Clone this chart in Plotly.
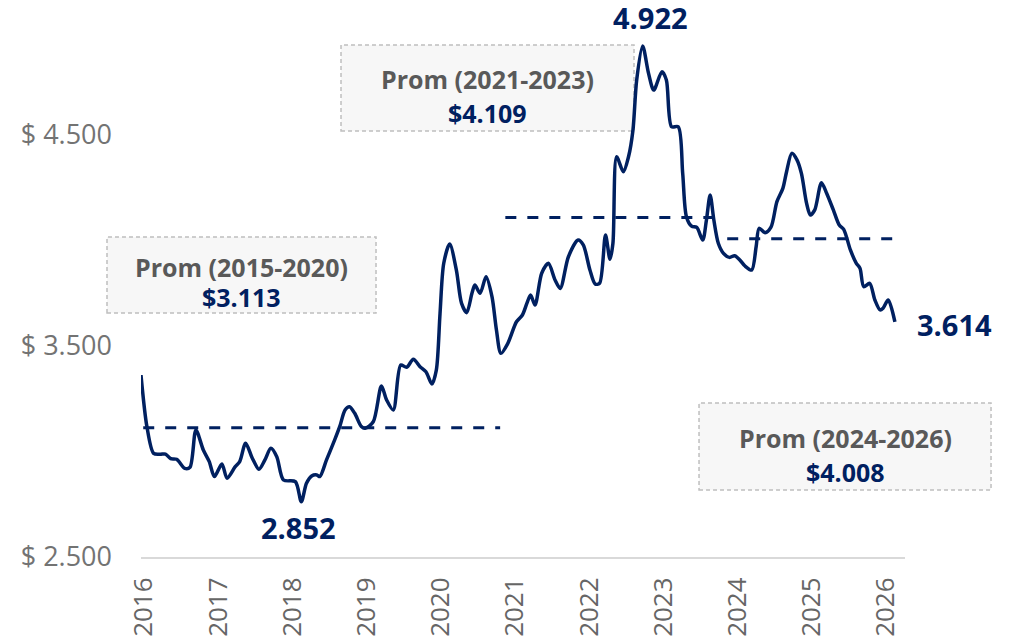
import plotly.graph_objects as go

# ---- data ----
years = [2015.96, 2016.04, 2016.13, 2016.22, 2016.29, 2016.36, 2016.44, 2016.55, 2016.62, 2016.70,
         2016.80, 2016.88, 2016.95, 2017.05, 2017.12, 2017.23, 2017.29, 2017.37, 2017.46, 2017.55,
         2017.63, 2017.71, 2017.79, 2017.88, 2018.04, 2018.12, 2018.19, 2018.26, 2018.33, 2018.37,
         2018.46, 2018.57, 2018.64, 2018.71, 2018.77, 2018.84, 2018.93, 2018.98, 2019.09, 2019.20,
         2019.27, 2019.36, 2019.46, 2019.54, 2019.63, 2019.72, 2019.80, 2019.88, 2019.94, 2019.99,
         2020.04, 2020.12, 2020.21, 2020.28, 2020.35, 2020.42, 2020.46, 2020.53, 2020.61, 2020.69,
         2020.75, 2020.81, 2020.90, 2021.02, 2021.10, 2021.16, 2021.21, 2021.27, 2021.36, 2021.45,
         2021.54, 2021.61, 2021.72, 2021.85, 2021.92, 2022.01, 2022.08, 2022.14, 2022.22, 2022.28,
         2022.32, 2022.37, 2022.46, 2022.53, 2022.59, 2022.64, 2022.72, 2022.80, 2022.87, 2022.98,
         2023.04, 2023.11, 2023.20, 2023.26, 2023.31, 2023.38, 2023.45, 2023.53, 2023.58, 2023.63,
         2023.68, 2023.74, 2023.81, 2023.89, 2023.96, 2024.03, 2024.10, 2024.19, 2024.25, 2024.29,
         2024.37, 2024.45, 2024.53, 2024.61, 2024.66, 2024.73, 2024.80, 2024.86, 2024.93, 2024.98,
         2025.04, 2025.13, 2025.20, 2025.29, 2025.37, 2025.43, 2025.52, 2025.60, 2025.65, 2025.70,
         2025.78, 2025.85, 2025.92, 2025.96, 2026.03, 2026.12]

prices = [3.362, 3.117, 2.991, 2.987, 2.988, 2.966, 2.963, 2.920, 2.925, 3.102,
          3.007, 2.952, 2.881, 2.941, 2.873, 2.928, 2.952, 3.039, 2.968, 2.916,
          2.960, 3.015, 2.975, 2.865, 2.857, 2.762, 2.849, 2.884, 2.889, 2.881,
          2.960, 3.055, 3.120, 3.197, 3.212, 3.181, 3.118, 3.110, 3.141, 3.310,
          3.244, 3.197, 3.410, 3.399, 3.437, 3.402, 3.378, 3.320, 3.386, 3.655,
          3.892, 3.983, 3.860, 3.702, 3.658, 3.750, 3.789, 3.750, 3.828, 3.734,
          3.576, 3.465, 3.510, 3.615, 3.647, 3.702, 3.742, 3.694, 3.845, 3.892,
          3.813, 3.773, 3.923, 4.002, 3.979, 3.860, 3.794, 3.797, 4.026, 3.911,
          3.987, 4.397, 4.326, 4.397, 4.524, 4.761, 4.922, 4.792, 4.713, 4.800,
          4.761, 4.539, 4.539, 4.318, 4.113, 4.068, 4.062, 4.002, 4.097, 4.216,
          4.097, 3.987, 3.939, 3.920, 3.928, 3.908, 3.879, 3.860, 3.971, 4.058,
          4.037, 4.063, 4.184, 4.247, 4.326, 4.413, 4.382, 4.318, 4.176, 4.121,
          4.145, 4.274, 4.224, 4.145, 4.073, 4.053, 3.955, 3.892, 3.868, 3.781,
          3.797, 3.718, 3.671, 3.679, 3.718, 3.614]

avg_labels = ["Prom (2015-2020)", "Prom (2021-2023)", "Prom (2024-2026)"]
avg_values = [3.113, 4.109, 4.008]
avg_start = [2015.99, 2020.87, 2023.86]
avg_end = [2020.80, 2023.80, 2026.15]

tick_years = [2016, 2017, 2018, 2019, 2020, 2021, 2022, 2023, 2024, 2025, 2026]
y_ticks = [2.5, 3.5, 4.5]
y_tick_text = ["$ 2.500", "$ 3.500", "$ 4.500"]

max_label, min_label, last_label = "4.922", "2.852", "3.614"

NAVY = "#002060"
GREY = "#595959"
FONT = "Century Gothic, Open Sans, sans-serif"

fig = go.Figure()

for s, e, v in zip(avg_start, avg_end, avg_values):
    fig.add_trace(go.Scatter(x=[s, e], y=[v, v], mode="lines",
                             line=dict(color=NAVY, width=3, dash="11px,11px"),
                             hoverinfo="skip", showlegend=False))

fig.add_trace(go.Scatter(x=years, y=prices, mode="lines",
                         line=dict(color=NAVY, width=3.5, shape="spline", smoothing=0.8),
                         showlegend=False))

# ---- average boxes (paper coordinates) ----
boxes = [(-0.0445, 0.3076, 0.4461, 0.5850),
         (0.2618, 0.6453, 0.7788, 0.9360),
         (0.7304, 1.1126, 0.1225, 0.2815)]
for (x0, x1, y0, y1), lab, val in zip(boxes, avg_labels, avg_values):
    fig.add_shape(type="rect", xref="paper", yref="paper", x0=x0, x1=x1, y0=y0, y1=y1,
                  line=dict(color="#bfbfbf", width=1.5, dash="4px,3px"),
                  fillcolor="#f7f7f7", layer="below")
    xc = (x0 + x1) / 2
    h = y1 - y0
    fig.add_annotation(xref="paper", yref="paper", x=xc, y=y0 + h * 0.60,
                       xanchor="center", yanchor="middle",
                       text=f"<b>{lab}</b>", showarrow=False,
                       font=dict(family=FONT, size=25, color=GREY))
    fig.add_annotation(xref="paper", yref="paper", x=xc, y=y0 + h * 0.21,
                       xanchor="center", yanchor="middle",
                       text=f"<b>${val:.3f}</b>", showarrow=False,
                       font=dict(family=FONT, size=25, color=NAVY))

# ---- value labels ----
fig.add_annotation(x=2022.72, y=4.922, text=f"<b>{max_label}</b>", showarrow=False,
                   xanchor="center", yanchor="middle", xshift=8, yshift=28,
                   font=dict(family=FONT, size=29, color=NAVY))
fig.add_annotation(x=2018.08, y=2.642, text=f"<b>{min_label}</b>", showarrow=False,
                   xanchor="center", yanchor="middle",
                   font=dict(family=FONT, size=29, color=NAVY))
fig.add_annotation(x=2026.12, y=3.614, text=f"<b>{last_label}</b>", showarrow=False,
                   xanchor="center", yanchor="middle", xshift=60, yshift=-3,
                   font=dict(family=FONT, size=29, color=NAVY))

# page body adds an 8px offset; margins compensate so the plot area matches the reference
fig.update_layout(
    width=1015, height=640,
    margin=dict(l=133, r=118, t=2, b=91),
    plot_bgcolor="white", paper_bgcolor="white",
    showlegend=False,
)
fig.update_xaxes(range=[2015.96, 2026.256], tickvals=tick_years,
                 ticktext=[str(t) for t in tick_years], tickangle=-90,
                 showgrid=False, zeroline=False, showline=True,
                 linecolor="#d9d9d9", linewidth=2, automargin=False,
                 ticklabelstandoff=8,
                 tickfont=dict(family=FONT, size=26, color="#666666"), ticks="")
fig.update_yaxes(range=[2.5, 5.0924], tickvals=y_ticks, ticktext=y_tick_text,
                 showgrid=False, zeroline=False, showline=False, automargin=False,
                 ticklabelstandoff=28,
                 tickfont=dict(family=FONT, size=27, color="#737373"))

fig.write_html("out.html")
